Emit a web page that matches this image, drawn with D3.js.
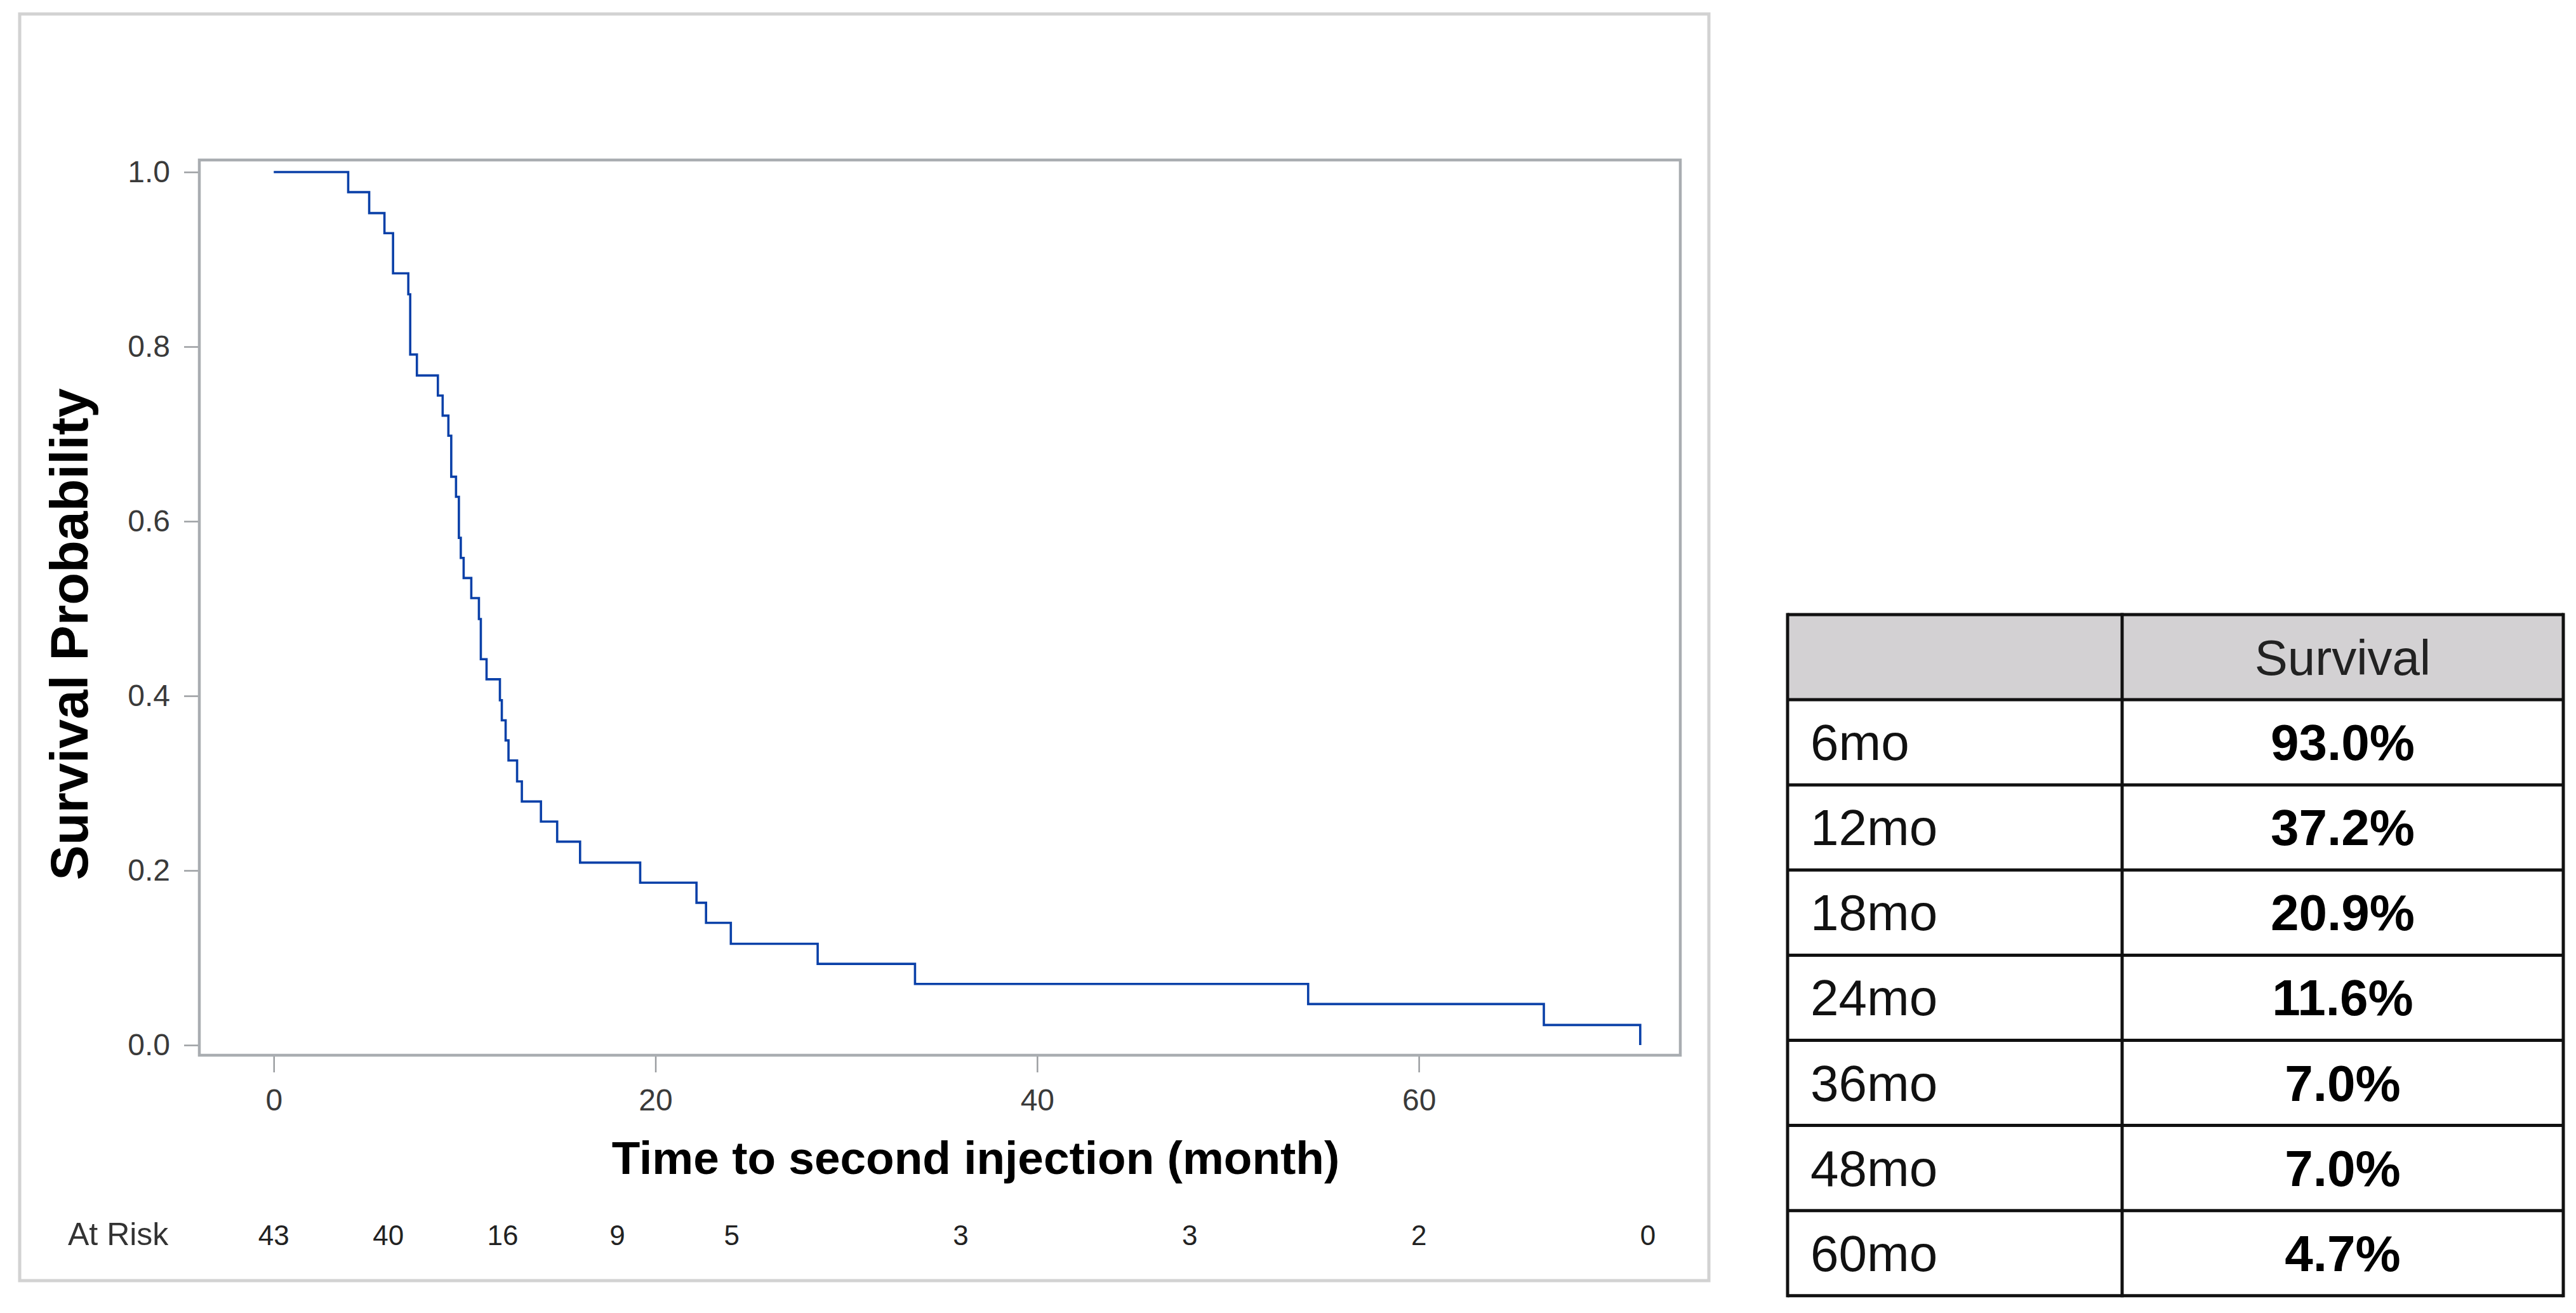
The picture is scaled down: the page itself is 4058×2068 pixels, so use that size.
<!DOCTYPE html>
<html>
<head>
<meta charset="utf-8">
<script src="https://cdn.jsdelivr.net/npm/d3@7"></script>
<style>
  body { margin: 0; background: #fff; }
  svg { display: block; font-family: "Liberation Sans", Arial, sans-serif; }
</style>
</head>
<body>
<svg id="chart" width="4058" height="2068"></svg>
<script>
// Kaplan-Meier steps (months, survival after the drop)
const eventTimes = [3.9, 5.0, 5.8, 6.25, 7.05, 7.15, 7.5, 8.6, 8.85, 9.15, 9.3, 9.55, 9.7, 9.8,
  9.95, 10.35, 10.75, 10.85, 11.15, 11.85, 11.95, 12.15, 12.3, 12.75, 13.0, 14.0, 14.85, 16.05,
  19.2, 22.15, 22.65, 23.95, 28.5, 33.6, 54.2, 66.55, 71.6];
const survProb = [0.977, 0.953, 0.930, 0.884, 0.860, 0.791, 0.767, 0.744, 0.721, 0.698, 0.651,
  0.628, 0.581, 0.558, 0.535, 0.512, 0.488, 0.442, 0.419, 0.395, 0.372, 0.349, 0.326, 0.302,
  0.279, 0.256, 0.233, 0.209, 0.186, 0.163, 0.140, 0.116, 0.093, 0.070, 0.047, 0.023, 0.0];

const xTicks = [0, 20, 40, 60];
const yTicks = [0, 0.2, 0.4, 0.6, 0.8, 1.0];

const riskTimes = [0, 6, 12, 18, 24, 36, 48, 60, 72];
const riskCounts = [43, 40, 16, 9, 5, 3, 3, 2, 0];

const tableHeader = ['', 'Survival'];
const tableLabels = ['6mo', '12mo', '18mo', '24mo', '36mo', '48mo', '60mo'];
const tableValues = ['93.0%', '37.2%', '20.9%', '11.6%', '7.0%', '7.0%', '4.7%'];

const svg = d3.select('#chart');

// plot frame in pixels
const plotLeft = 314, plotRight = 2647, plotTop = 252, plotBottom = 1662;

const x = d3.scaleLinear().domain([-3.9, 73.7]).range([plotLeft, plotRight]);
const y = d3.scaleLinear().domain([-0.0116, 1.0138]).range([plotBottom, plotTop]);

// outer box around the chart
svg.append('rect')
  .attr('x', 31).attr('y', 22)
  .attr('width', 2661).attr('height', 1995)
  .attr('fill', 'none')
  .attr('stroke', '#d2d2d2')
  .attr('stroke-width', 5);

// axes
const yAxis = svg.append('g')
  .attr('transform', `translate(${plotLeft},0)`)
  .call(d3.axisLeft(y).tickValues(yTicks).tickFormat(d3.format('.1f')).tickSize(24).tickPadding(22));

const xAxis = svg.append('g')
  .attr('transform', `translate(0,${plotBottom})`)
  .call(d3.axisBottom(x).tickValues(xTicks).tickSize(27).tickPadding(26));

[xAxis, yAxis].forEach((g) => {
  g.select('.domain').remove();
  g.selectAll('line').attr('stroke', '#9c9fa2').attr('stroke-width', 2.5);
  g.selectAll('text')
    .attr('font-size', 48)
    .attr('font-family', '"Liberation Sans", Arial, sans-serif')
    .attr('fill', '#3a3a3a');
});

// frame
svg.append('rect')
  .attr('x', plotLeft).attr('y', plotTop)
  .attr('width', plotRight - plotLeft).attr('height', plotBottom - plotTop)
  .attr('fill', 'none')
  .attr('stroke', '#a9adb1')
  .attr('stroke-width', 4.5);

// survival curve
const points = [[0, 1]].concat(eventTimes.map((t, i) => [t, survProb[i]]));
const line = d3.line()
  .x((d) => x(d[0]))
  .y((d) => y(d[1]))
  .curve(d3.curveStepAfter);

svg.append('path')
  .datum(points)
  .attr('d', line)
  .attr('fill', 'none')
  .attr('stroke', '#0a40a8')
  .attr('stroke-width', 3.6);

// axis titles
svg.append('text')
  .attr('x', 1537).attr('y', 1849)
  .attr('text-anchor', 'middle')
  .attr('font-size', 73)
  .attr('font-weight', 'bold')
  .attr('fill', '#000')
  .text('Time to second injection (month)');

svg.append('text')
  .attr('transform', 'translate(138,999) rotate(-90)')
  .attr('text-anchor', 'middle')
  .attr('font-size', 83)
  .attr('font-weight', 'bold')
  .attr('fill', '#000')
  .text('Survival Probability');

// at risk row
svg.append('text')
  .attr('x', 107).attr('y', 1961)
  .attr('font-size', 50)
  .attr('fill', '#333')
  .text('At Risk');

svg.append('g')
  .selectAll('text')
  .data(riskTimes)
  .join('text')
  .attr('x', (d) => x(d))
  .attr('y', 1961)
  .attr('text-anchor', 'middle')
  .attr('font-size', 44)
  .attr('fill', '#222')
  .text((d, i) => riskCounts[i]);

// survival table
const tLeft = 2816, tSplit = 3343, tRight = 4038, tTop = 968, rowH = 134.1;
const rows = [tableHeader].concat(tableLabels.map((l, i) => [l, tableValues[i]]));
const tRow = d3.scaleLinear().domain([0, rows.length]).range([tTop, tTop + rowH * rows.length]);

const table = svg.append('g');

table.append('rect')
  .attr('x', tLeft).attr('y', tRow(0))
  .attr('width', tRight - tLeft).attr('height', rowH)
  .attr('fill', '#d3d1d3');

table.selectAll('line.row')
  .data(d3.range(rows.length + 1))
  .join('line')
  .attr('class', 'row')
  .attr('x1', tLeft).attr('x2', tRight)
  .attr('y1', (d) => tRow(d)).attr('y2', (d) => tRow(d))
  .attr('stroke', '#111').attr('stroke-width', 5);

table.selectAll('line.col')
  .data([tLeft, tSplit, tRight])
  .join('line')
  .attr('class', 'col')
  .attr('x1', (d) => d).attr('x2', (d) => d)
  .attr('y1', tRow(0) - 2.5).attr('y2', tRow(rows.length) + 2.5)
  .attr('stroke', '#111').attr('stroke-width', 5);

rows.forEach((r, i) => {
  const cy = (tRow(i) + tRow(i + 1)) / 2;
  table.append('text')
    .attr('x', tLeft + 36).attr('y', cy + 28)
    .attr('font-size', 80)
    .attr('fill', '#111')
    .text(r[0]);
  table.append('text')
    .attr('x', (tSplit + tRight) / 2).attr('y', cy + 28)
    .attr('text-anchor', 'middle')
    .attr('font-size', i === 0 ? 78 : 80)
    .attr('font-weight', i === 0 ? 'normal' : 'bold')
    .attr('fill', i === 0 ? '#222' : '#000')
    .text(r[1]);
});
</script>
</body>
</html>
